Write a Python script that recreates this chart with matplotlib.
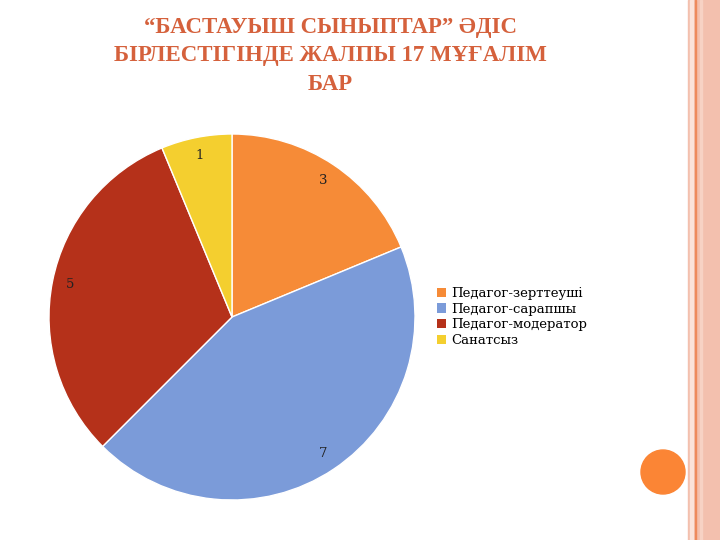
import matplotlib
matplotlib.use("Agg")
import matplotlib.pyplot as plt
from matplotlib.patches import Rectangle, Circle, Patch

categories = ["Педагог-зерттеуші", "Педагог-сарапшы", "Педагог-модератор", "Санатсыз"]
values = [3, 7, 5, 1]
colors = ["#f68b37", "#7b9bd9", "#b5311a", "#f4cf2f"]
title = "“БАСТАУЫШ СЫНЫПТАР” ӘДІС\nБІРЛЕСТІГІНДЕ ЖАЛПЫ 17 МҰҒАЛІМ\nБАР"

fig = plt.figure(figsize=(7.2, 5.4), dpi=100)
fig.patch.set_facecolor("white")

fig.patches.append(Rectangle((688/720, 0), 32/720, 1, transform=fig.transFigure, color="#f3c0ae", zorder=0))
fig.patches.append(Rectangle((690/720, 0), 3/720, 1, transform=fig.transFigure, color="#fbe3da", zorder=1))
fig.patches.append(Rectangle((695/720, 0), 1.2/720, 1, transform=fig.transFigure, color="#ee8a5c", zorder=1))
fig.patches.append(Rectangle((700/720, 0), 2/720, 1, transform=fig.transFigure, color="#f7d2c4", zorder=1))

fig.text(330/720, 1 - 56/540, title, ha="center", va="center", fontsize=16.5, fontweight="bold",
         family="Liberation Serif", color="#d5613c", linespacing=1.5)

ax = fig.add_axes([(232-183)/720, 1-(317+183)/540, 366/720, 366/540])
ax.pie(values, colors=colors, startangle=90, counterclock=False,
       autopct=lambda p: f"{round(p*sum(values)/100):d}", pctdistance=0.9,
       textprops=dict(family="DejaVu Serif", fontsize=9.5, color="#222222"),
       wedgeprops=dict(edgecolor="white", linewidth=1))
ax.set_xlim(-1, 1); ax.set_ylim(-1, 1)
ax.set_aspect("equal")

handles = [Patch(facecolor=c, edgecolor="none") for c in colors]
fig.legend(handles, categories, loc="center left", bbox_to_anchor=(425/720, 1-317/540),
           frameon=False, prop=dict(family="DejaVu Serif", size=9.5),
           handlelength=0.7, handleheight=0.7, handletextpad=0.4, labelspacing=0.2)

ax2 = fig.add_axes([0, 0, 1, 1], facecolor="none")
ax2.set_xlim(0, 720); ax2.set_ylim(540, 0); ax2.axis("off")
ax2.add_patch(Circle((663, 472), 22, color="#fb8535"))
ax2.set_aspect("equal")

fig.savefig("out.png", dpi=100)
